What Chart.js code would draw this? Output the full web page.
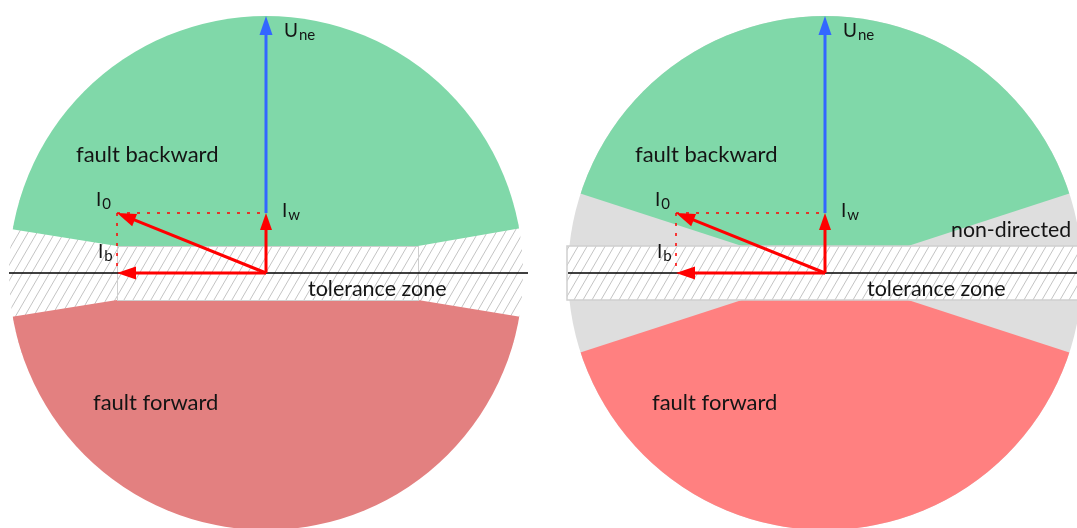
<!DOCTYPE html>
<html><head><meta charset="utf-8">
<script src="https://cdn.jsdelivr.net/npm/chart.js@4"></script>
<style>html,body{margin:0;padding:0;background:#fff}#wrap{width:1077px;height:528px;position:relative}</style>
</head><body><div id="wrap"><canvas id="c"></canvas></div>
<script>
// ---------- data (diagram units, origin = each panel's phasor origin) ----------
const panelOffsets = [0, 559];
const circleRadius = 257;
const toleranceHalf = 27;
const uneVector = [0, 257];
const iwVector = [0, 60];
const i0Vector = [-149, 60];
const ibVector = [-149, 0];
const leftBackwardEdge = [[-262, 45], [-149, 27], [152, 27], [262, 46]];
const leftForwardEdge = [[-262, -45], [-149, -27], [152, -27], [262, -45]];
const leftZoneSpan = [-149, 152];
const rightZoneSpan = [-258, 262];
const nonDirectedSlope = 0.325;
const regionLabels = ['fault backward', 'fault forward', 'tolerance zone', 'non-directed'];
const vectorLabels = [['U', 'ne'], ['I', 'w'], ['I', '0'], ['I', 'b']];
const axisSpan = [-257, 262];

// ---------- layout / style ----------
const regionLabelPos = [[-190, 111], [-173, -137], [42, -23], [126, 36]];
const regionLabelSize = [22, 22, 21.5, 21.3];
const vectorLabelPos = [[18, 236], [16, 56], [-170, 67], [-168, 15]];
const COL = {
  green: '#80D8A9', redL: '#E38080', redR: '#FF8080', gray: '#DEDEDE',
  hatch: '#C4C4C4', zone: '#CFCFCF', red: '#FF0000', blue: '#3366FF', text: '#141414'
};
const FONT = 'Lato, "Open Sans", sans-serif';

const datasets = [];
panelOffsets.forEach((o, i) => {
  datasets.push({
    label: 'axis' + i, data: [{x: o + axisSpan[0], y: 0}, {x: o + axisSpan[1], y: 0}],
    showLine: true, borderColor: '#000', borderWidth: 1.5, pointRadius: 0, order: 5
  });
  datasets.push({
    label: 'dotH' + i, data: [{x: o + i0Vector[0], y: i0Vector[1]}, {x: o + iwVector[0], y: iwVector[1]}],
    showLine: true, borderColor: COL.red, borderWidth: 1.5, borderDash: [3, 7], pointRadius: 0, order: 4
  });
  datasets.push({
    label: 'dotV' + i, data: [{x: o + i0Vector[0], y: i0Vector[1]}, {x: o + ibVector[0], y: ibVector[1]}],
    showLine: true, borderColor: COL.red, borderWidth: 1.5, borderDash: [3, 7], pointRadius: 0, order: 4
  });
});

function hatch(ctx, left, top, right, bottom) {
  const h = bottom - top, dx = h * 0.58;
  ctx.beginPath();
  for (let x = left - dx - 30; x < right + 30; x += 9) {
    ctx.moveTo(x, bottom); ctx.lineTo(x + dx, top);
  }
  ctx.strokeStyle = COL.hatch; ctx.lineWidth = 1; ctx.stroke();
}
function poly(ctx, pts, color) {
  ctx.beginPath();
  pts.forEach((p, k) => k ? ctx.lineTo(p[0], p[1]) : ctx.moveTo(p[0], p[1]));
  ctx.closePath(); ctx.fillStyle = color; ctx.fill();
}
function arrow(ctx, x0, y0, x1, y1, color, lw, hl, hw) {
  const a = Math.atan2(y1 - y0, x1 - x0);
  const bx = x1 - Math.cos(a) * (hl - 1), by = y1 - Math.sin(a) * (hl - 1);
  ctx.beginPath(); ctx.moveTo(x0, y0); ctx.lineTo(bx, by);
  ctx.strokeStyle = color; ctx.lineWidth = lw; ctx.lineCap = 'butt'; ctx.stroke();
  const hx = x1 - Math.cos(a) * hl, hy = y1 - Math.sin(a) * hl;
  const nx = -Math.sin(a) * hw / 2, ny = Math.cos(a) * hw / 2;
  ctx.beginPath(); ctx.moveTo(x1, y1); ctx.lineTo(hx + nx, hy + ny); ctx.lineTo(hx - nx, hy - ny);
  ctx.closePath(); ctx.fillStyle = color; ctx.fill();
}

const diagramPlugin = {
  id: 'diagram',
  beforeDatasetsDraw(chart) {
    const ctx = chart.ctx, X = v => chart.scales.x.getPixelForValue(v), Y = v => chart.scales.y.getPixelForValue(v);
    panelOffsets.forEach((o, i) => {
      const cx = X(o), cy = Y(0), R = X(o + circleRadius) - cx;
      ctx.save();
      ctx.beginPath(); ctx.arc(cx, cy, R, 0, Math.PI * 2); ctx.clip();
      if (i === 0) {
        hatch(ctx, cx - R, Y(80), cx + R, Y(-80));
        poly(ctx, leftBackwardEdge.map(p => [X(o + p[0]), Y(p[1])]).concat([[X(o + 300), Y(300)], [X(o - 300), Y(300)]]), COL.green);
        poly(ctx, leftForwardEdge.map(p => [X(o + p[0]), Y(p[1])]).concat([[X(o + 300), Y(-300)], [X(o - 300), Y(-300)]]), COL.redL);
        ctx.restore();
        ctx.strokeStyle = COL.zone; ctx.lineWidth = 1;
        const l = X(o + leftZoneSpan[0]), r = X(o + leftZoneSpan[1]);
        ctx.strokeRect(Math.round(l) + 0.5, Math.round(Y(toleranceHalf)) + 0.5, r - l, Y(-toleranceHalf) - Y(toleranceHalf));
      } else {
        ctx.fillStyle = COL.gray; ctx.fillRect(cx - R, cy - R, 2 * R, 2 * R);
        const k = toleranceHalf / nonDirectedSlope, e = 300 * nonDirectedSlope;
        poly(ctx, [[X(o - 300), Y(e)], [X(o - k), Y(toleranceHalf)], [X(o + k), Y(toleranceHalf)], [X(o + 300), Y(e)], [X(o + 300), Y(300)], [X(o - 300), Y(300)]], COL.green);
        poly(ctx, [[X(o - 300), Y(-e)], [X(o - k), Y(-toleranceHalf)], [X(o + k), Y(-toleranceHalf)], [X(o + 300), Y(-e)], [X(o + 300), Y(-300)], [X(o - 300), Y(-300)]], COL.redR);
        ctx.restore();
        const l = X(o + rightZoneSpan[0]), r = X(o + rightZoneSpan[1]), t = Y(toleranceHalf), b = Y(-toleranceHalf);
        ctx.save();
        ctx.fillStyle = '#fff'; ctx.fillRect(l, t, r - l, b - t);
        ctx.beginPath(); ctx.rect(l, t, r - l, b - t); ctx.clip();
        hatch(ctx, l, Y(80), r, Y(-80));
        ctx.restore();
        ctx.strokeStyle = COL.zone; ctx.lineWidth = 1.5;
        ctx.strokeRect(l, t, r - l, b - t);
      }
    });
  },
  afterDatasetsDraw(chart) {
    const ctx = chart.ctx, X = v => chart.scales.x.getPixelForValue(v), Y = v => chart.scales.y.getPixelForValue(v);
    panelOffsets.forEach((o, i) => {
      const ox = X(o), oy = Y(0);
      arrow(ctx, X(o + iwVector[0]), Y(iwVector[1]), X(o + uneVector[0]), Y(uneVector[1]), COL.blue, 3, 19, 13);
      arrow(ctx, ox, oy, X(o + iwVector[0]), Y(iwVector[1]), COL.red, 3, 17, 12);
      arrow(ctx, ox, oy, X(o + ibVector[0]), Y(ibVector[1]), COL.red, 3, 19, 13);
      arrow(ctx, ox, oy, X(o + i0Vector[0]), Y(i0Vector[1]), COL.red, 3, 19, 13);
      ctx.fillStyle = COL.text; ctx.textBaseline = 'alphabetic'; ctx.textAlign = 'left';
      regionLabels.forEach((t, k) => {
        if (k === 3 && i === 0) return;
        ctx.font = regionLabelSize[k] + 'px ' + FONT;
        ctx.fillText(t, X(o + regionLabelPos[k][0]), Y(regionLabelPos[k][1]));
      });
      vectorLabels.forEach((v, k) => {
        const x = X(o + vectorLabelPos[k][0]), y = Y(vectorLabelPos[k][1]);
        ctx.font = '19px ' + FONT; ctx.fillText(v[0], x, y);
        const w = ctx.measureText(v[0]).width;
        ctx.font = '15px ' + FONT; ctx.fillText(v[1], x + w + 1, y + 3);
      });
    });
  }
};

new Chart(document.getElementById('c'), {
  type: 'scatter',
  data: {datasets},
  options: {
    responsive: true, maintainAspectRatio: false, animation: false,
    layout: {padding: 0},
    plugins: {legend: {display: false}, tooltip: {enabled: false}},
    events: [],
    scales: {
      x: {type: 'linear', min: -266, max: 811, display: false},
      y: {type: 'linear', min: -255, max: 273, display: false}
    }
  },
  plugins: [diagramPlugin]
});
</script></body></html>
